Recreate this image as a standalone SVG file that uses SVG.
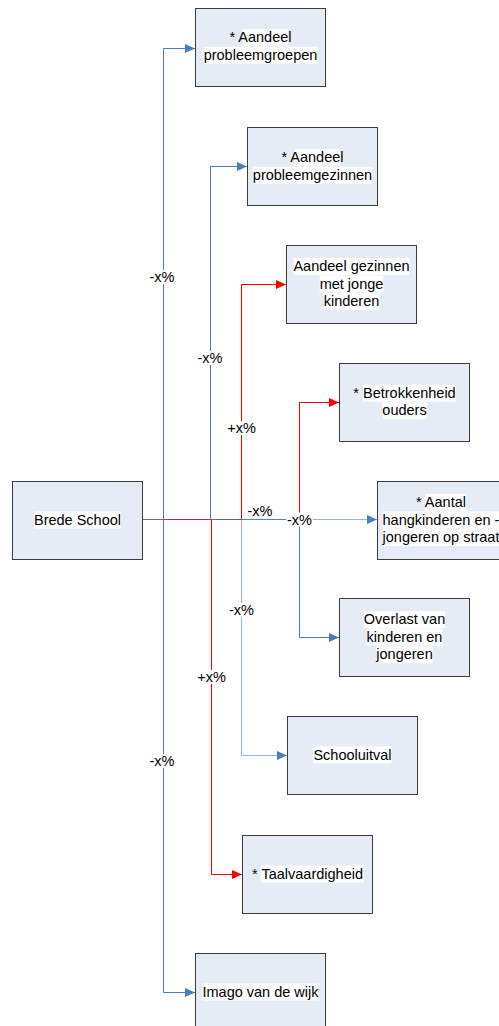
<svg xmlns="http://www.w3.org/2000/svg" width="499" height="1026" viewBox="0 0 499 1026">
<style>
.box{fill:#e6ecf6;stroke:#3c3c3c;stroke-width:1}
.hl{fill:#ffffff}
.t{font-family:"Liberation Sans",Arial,sans-serif;font-size:14.5px;fill:#000;text-anchor:middle}
.cb{fill:none;stroke:#4a7ebb;stroke-width:1}
.cr{fill:none;stroke:#ff0000;stroke-width:1}
.cl{fill:none;stroke:#95b3e3;stroke-width:1}
.lb{fill:#ffffff}
</style>
<defs>
<marker id="ab" markerUnits="userSpaceOnUse" markerWidth="10" markerHeight="9" refX="10" refY="4.5" orient="auto"><path d="M0,0 L10,4.5 L0,9 z" fill="#4a7ebb"/></marker>
<marker id="ar" markerUnits="userSpaceOnUse" markerWidth="10" markerHeight="9" refX="10" refY="4.5" orient="auto"><path d="M0,0 L10,4.5 L0,9 z" fill="#ff0000"/></marker>
</defs>
<rect width="499" height="1026" fill="#ffffff"/>

<g id="connectors">
<path class="cb" d="M163.5,519.5 V48.5 H195" marker-end="url(#ab)"/>
<path class="cb" d="M163.5,519.5 V992.5 H195" marker-end="url(#ab)"/>
<path class="cb" d="M210.5,519.5 V166.5 H247" marker-end="url(#ab)"/>
<path class="cr" d="M211.5,519.5 V874.5 H242" marker-end="url(#ar)"/>
<path class="cr" d="M241.5,519.5 V284.5 H286" marker-end="url(#ar)"/>
<path class="cl" d="M241.5,519.5 V755.5 H287" marker-end="url(#ab)"/>
<path class="cr" d="M299.5,519.5 V402.5 H339" marker-end="url(#ar)"/>
<path class="cb" d="M299.5,519.5 V637.5 H339" marker-end="url(#ab)"/>
<path class="cl" d="M143,519.5 H377" marker-end="url(#ab)"/>
<path d="M143,519.5 H163.5" stroke="#7d5a8e" stroke-width="1"/>
<path d="M163.5,519.5 H211" stroke="#b0304c" stroke-width="1"/>
<path d="M211,519.5 H242" stroke="#5b64a8" stroke-width="1"/>
<path d="M242,519.5 H299.5" stroke="#5f7cc0" stroke-width="1"/>
<g id="labels">
<rect class="lb" x="148.5" y="270" width="27" height="14"/><text class="t" x="162" y="282">-x%</text>
<rect class="lb" x="196.5" y="351" width="27" height="14"/><text class="t" x="210" y="363">-x%</text>
<rect class="lb" x="226.5" y="421" width="30" height="14"/><text class="t" x="241.5" y="433">+x%</text>
<rect class="lb" x="246.5" y="504" width="27" height="14"/><text class="t" x="260" y="516">-x%</text>
<rect class="lb" x="286" y="512.5" width="27" height="14"/><text class="t" x="299.5" y="524.5">-x%</text>
<rect class="lb" x="228" y="603" width="27" height="14"/><text class="t" x="241.5" y="615">-x%</text>
<rect class="lb" x="196.5" y="670" width="30" height="14"/><text class="t" x="211.5" y="682">+x%</text>
<rect class="lb" x="148.5" y="754" width="27" height="14"/><text class="t" x="162" y="766">-x%</text>
</g>
</g>

<g id="n_brede">
<rect class="box" x="12.5" y="481.5" width="130" height="78"/>
<rect class="hl" x="34" y="511.5" width="87" height="17"/>
<text class="t" x="77.5" y="524.5">Brede School</text>
</g>

<g id="n_probleemgroepen">
<rect class="box" x="195.5" y="8.5" width="130" height="78"/>
<rect class="hl" x="242.8" y="29.2" width="45.1" height="17"/>
<rect class="hl" x="203.7" y="46.8" width="113.6" height="17"/>
<text class="t" x="260.5" y="42.2">* Aandeel</text>
<text class="t" x="260.5" y="59.8">probleemgroepen</text>
</g>

<g id="n_probleemgezinnen">
<rect class="box" x="247.5" y="127.5" width="130" height="78"/>
<rect class="hl" x="294.8" y="149.2" width="45.1" height="17"/>
<rect class="hl" x="252.9" y="166.8" width="119.3" height="17"/>
<text class="t" x="312.5" y="162.2">* Aandeel</text>
<text class="t" x="312.5" y="179.8">probleemgezinnen</text>
</g>

<g id="n_jonge">
<rect class="box" x="286.5" y="245.5" width="130" height="78"/>
<rect class="hl" x="293.5" y="258" width="116.1" height="17"/>
<rect class="hl" x="319.7" y="275.5" width="63.7" height="17"/>
<rect class="hl" x="323.7" y="293" width="55.6" height="17"/>
<text class="t" x="351.5" y="271">Aandeel gezinnen</text>
<text class="t" x="351.5" y="288.5">met jonge</text>
<text class="t" x="351.5" y="306">kinderen</text>
</g>

<g id="n_betrokkenheid">
<rect class="box" x="339.5" y="363.5" width="130" height="78"/>
<rect class="hl" x="363" y="384.7" width="92.7" height="17"/>
<rect class="hl" x="382.4" y="402.3" width="44.3" height="17"/>
<text class="t" x="404.5" y="397.7">* Betrokkenheid</text>
<text class="t" x="404.5" y="415.3">ouders</text>
</g>

<g id="n_hangkinderen">
<rect class="box" x="377.5" y="481.5" width="130" height="78"/>
<rect class="hl" x="425.3" y="493.9" width="41.1" height="17"/>
<rect class="hl" x="382.6" y="511.5" width="116.9" height="17"/>
<rect class="hl" x="382.6" y="529.1" width="116.9" height="17"/>
<text class="t" x="441" y="506.9">* Aantal</text>
<text class="t" x="441" y="524.5">hangkinderen en -</text>
<text class="t" x="441" y="542.1">jongeren op straat</text>
</g>

<g id="n_overlast">
<rect class="box" x="339.5" y="598.5" width="130" height="78"/>
<rect class="hl" x="363.8" y="611.1" width="81.4" height="17"/>
<rect class="hl" x="366.6" y="628.7" width="75.8" height="17"/>
<rect class="hl" x="376.3" y="646.3" width="56.4" height="17"/>
<text class="t" x="404.5" y="624.1">Overlast van</text>
<text class="t" x="404.5" y="641.7">kinderen en</text>
<text class="t" x="404.5" y="659.3">jongeren</text>
</g>

<g id="n_schooluitval">
<rect class="box" x="287.5" y="716.5" width="130" height="78"/>
<rect class="hl" x="313.4" y="746.5" width="78.2" height="17"/>
<text class="t" x="352.5" y="759.5">Schooluitval</text>
</g>

<g id="n_taalvaardigheid">
<rect class="box" x="242.5" y="835.5" width="130" height="78"/>
<rect class="hl" x="260.8" y="865.5" width="103.1" height="17"/>
<text class="t" x="307.5" y="878.5">* Taalvaardigheid</text>
</g>

<g id="n_imago">
<rect class="box" x="195.5" y="953.5" width="130" height="78"/>
<rect class="hl" x="202.5" y="983.5" width="116" height="17"/>
<text class="t" x="260.5" y="996.5">Imago van de wijk</text>
</g>
</svg>
